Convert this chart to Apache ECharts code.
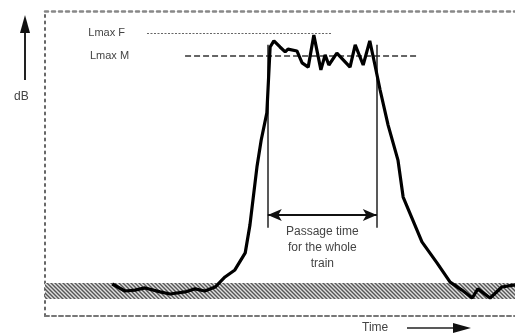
<!DOCTYPE html>
<html>
<head>
<meta charset="utf-8">
<script src="https://cdn.jsdelivr.net/npm/echarts@6/dist/echarts.min.js"></script>
<style>
  html, body { margin: 0; padding: 0; background: #fff; }
  #chart { width: 515px; height: 336px; }
</style>
</head>
<body>
<div id="chart"></div>
<script>
// time axis runs 0..100, level axis 0..100 (arbitrary units, as in the sketch)
var timeVals = [14.3, 17.0, 19.1, 21.3, 24.5, 26.6, 29.8, 31.9, 34.0, 36.2, 38.3, 40.4, 42.6, 43.6,
    45.1, 46.0, 47.2, 47.9, 48.7, 50.0, 51.1, 51.7, 53.6, 54.7, 56.0, 57.2, 58.7, 59.6, 60.4,
    62.1, 64.9, 66.0, 67.7, 69.1, 70.2, 71.3, 73.0, 75.1, 76.2, 80.2, 83.4, 86.2, 88.7, 90.9,
    92.1, 94.7, 97.2, 100];
var levelVals = [10.5, 8.2, 8.5, 9.2, 7.9, 7.2, 7.9, 8.9, 8.2, 9.5, 12.8, 15.1, 20.7, 29.8,
    48.9, 57.7, 66.6, 88.2, 90.2, 88.2, 86.6, 87.5, 86.9, 83.0, 81.6, 92.1, 80.7, 85.6, 82.3,
    86.2, 81.6, 88.9, 82.3, 90.2, 82.3, 74.1, 62.6, 51.1, 39.0, 24.3, 17.4, 11.1, 8.5, 5.9,
    8.9, 5.9, 9.5, 10.2];

var lmaxF = 92.8, lmaxFStart = 21.7, lmaxFEnd = 60.9;
var lmaxM = 85.2, lmaxMStart = 29.8, lmaxMEnd = 79.1;
var passStart = 47.4, passEnd = 70.6, passTop = 88.9, passBottom = 28.9, passArrow = 33.1;
var bgLow = 5.6, bgHigh = 10.8;

var curve = [];
for (var i = 0; i < timeVals.length; i++) {
    curve.push([timeVals[i], levelVals[i]]);
}

// diagonal hatching for the background noise band
var hatch = document.createElement('canvas');
hatch.width = 4;
hatch.height = 4;
var hc = hatch.getContext('2d');
hc.fillStyle = '#ddd';
hc.fillRect(0, 0, 4, 4);
hc.strokeStyle = '#444';
hc.lineWidth = 1.4;
hc.beginPath();
hc.moveTo(-1, -1); hc.lineTo(5, 5);
hc.moveTo(-1, 3); hc.lineTo(1, 5);
hc.moveTo(3, -1); hc.lineTo(5, 1);
hc.stroke();

var textColor = '#444';
var fontFam = 'Liberation Sans, Arial, sans-serif';

var myChart = echarts.init(document.getElementById('chart'));

var option = {
    animation: false,
    backgroundColor: '#fff',
    grid: { left: 45, top: 11, right: -4, bottom: 20 },
    xAxis: [
        {
            type: 'value', min: 0, max: 100, position: 'bottom',
            axisLine: { show: true, onZero: false, lineStyle: { color: '#777', width: 2, type: [4, 3] } },
            axisTick: { show: false }, axisLabel: { show: false }, splitLine: { show: false }
        },
        {
            type: 'value', min: 0, max: 100, position: 'top',
            axisLine: { show: true, onZero: false, lineStyle: { color: '#888', width: 2.5, type: [3, 4] } },
            axisTick: { show: false }, axisLabel: { show: false }, splitLine: { show: false }
        }
    ],
    yAxis: {
        type: 'value', min: 0, max: 100,
        axisLine: { show: true, onZero: false, lineStyle: { color: '#666', width: 2, type: [2, 4.5] } },
        axisTick: { show: false }, axisLabel: { show: false }, splitLine: { show: false }
    },
    series: [
        {
            type: 'line',
            data: curve,
            symbol: 'none',
            lineStyle: { color: '#000', width: 3.2 },
            z: 5,
            markArea: {
                silent: true,
                itemStyle: { color: { image: hatch, repeat: 'repeat' }, opacity: 0.9 },
                data: [[{ coord: [0, bgLow] }, { coord: [100, bgHigh] }]]
            }
        },
        {
            type: 'line',
            data: [],
            markLine: {
                silent: true,
                symbol: 'none',
                data: [
                    [
                        { coord: [lmaxFStart, lmaxF], lineStyle: { color: '#666', width: 1.2, type: [2, 1.5] },
                          label: { show: true, position: 'start', distance: 22, formatter: 'Lmax F',
                                   color: textColor, fontSize: 11, fontFamily: fontFam } },
                        { coord: [lmaxFEnd, lmaxF] }
                    ],
                    [
                        { coord: [lmaxMStart, lmaxM], lineStyle: { color: '#333', width: 1.5, type: [6, 3] },
                          label: { show: true, position: 'start', distance: 56, formatter: 'Lmax M',
                                   color: textColor, fontSize: 11, fontFamily: fontFam } },
                        { coord: [lmaxMEnd, lmaxM] }
                    ],
                    [
                        { coord: [passStart, passTop], lineStyle: { color: '#222', width: 1.5, type: 'solid' }, label: { show: false } },
                        { coord: [passStart, passBottom] }
                    ],
                    [
                        { coord: [passEnd, passTop], lineStyle: { color: '#222', width: 1.5, type: 'solid' }, label: { show: false } },
                        { coord: [passEnd, passBottom] }
                    ]
                ]
            }
        },
        {
            type: 'line',
            data: [],
            markLine: {
                silent: true,
                symbol: ['arrow', 'arrow'],
                symbolSize: [9, 14],
                lineStyle: { color: '#111', width: 2, type: 'solid' },
                label: {
                    show: true, position: 'insideMiddleBottom', distance: 9,
                    formatter: 'Passage time\nfor the whole\ntrain',
                    color: textColor, fontSize: 12, lineHeight: 16, fontFamily: fontFam, align: 'center'
                },
                data: [[{ coord: [passStart, passArrow] }, { coord: [passEnd, passArrow] }]]
            }
        }
    ],
    graphic: [
        { type: 'line', shape: { x1: 25, y1: 80, x2: 25, y2: 28 }, style: { stroke: '#222', lineWidth: 2 } },
        { type: 'polygon', shape: { points: [[25, 15], [20, 33], [30, 33]] }, style: { fill: '#111' } },
        { type: 'text', left: 14, top: 91, style: { text: 'dB', fill: textColor, font: '12px ' + fontFam } },
        { type: 'text', left: 362, top: 322, style: { text: 'Time', fill: textColor, font: '12px ' + fontFam } },
        { type: 'line', shape: { x1: 407, y1: 328, x2: 456, y2: 328 }, style: { stroke: '#222', lineWidth: 1.5 } },
        { type: 'polygon', shape: { points: [[471, 328], [453, 323], [453, 333]] }, style: { fill: '#111' } }
    ]
};

myChart.setOption(option);
</script>
</body>
</html>
